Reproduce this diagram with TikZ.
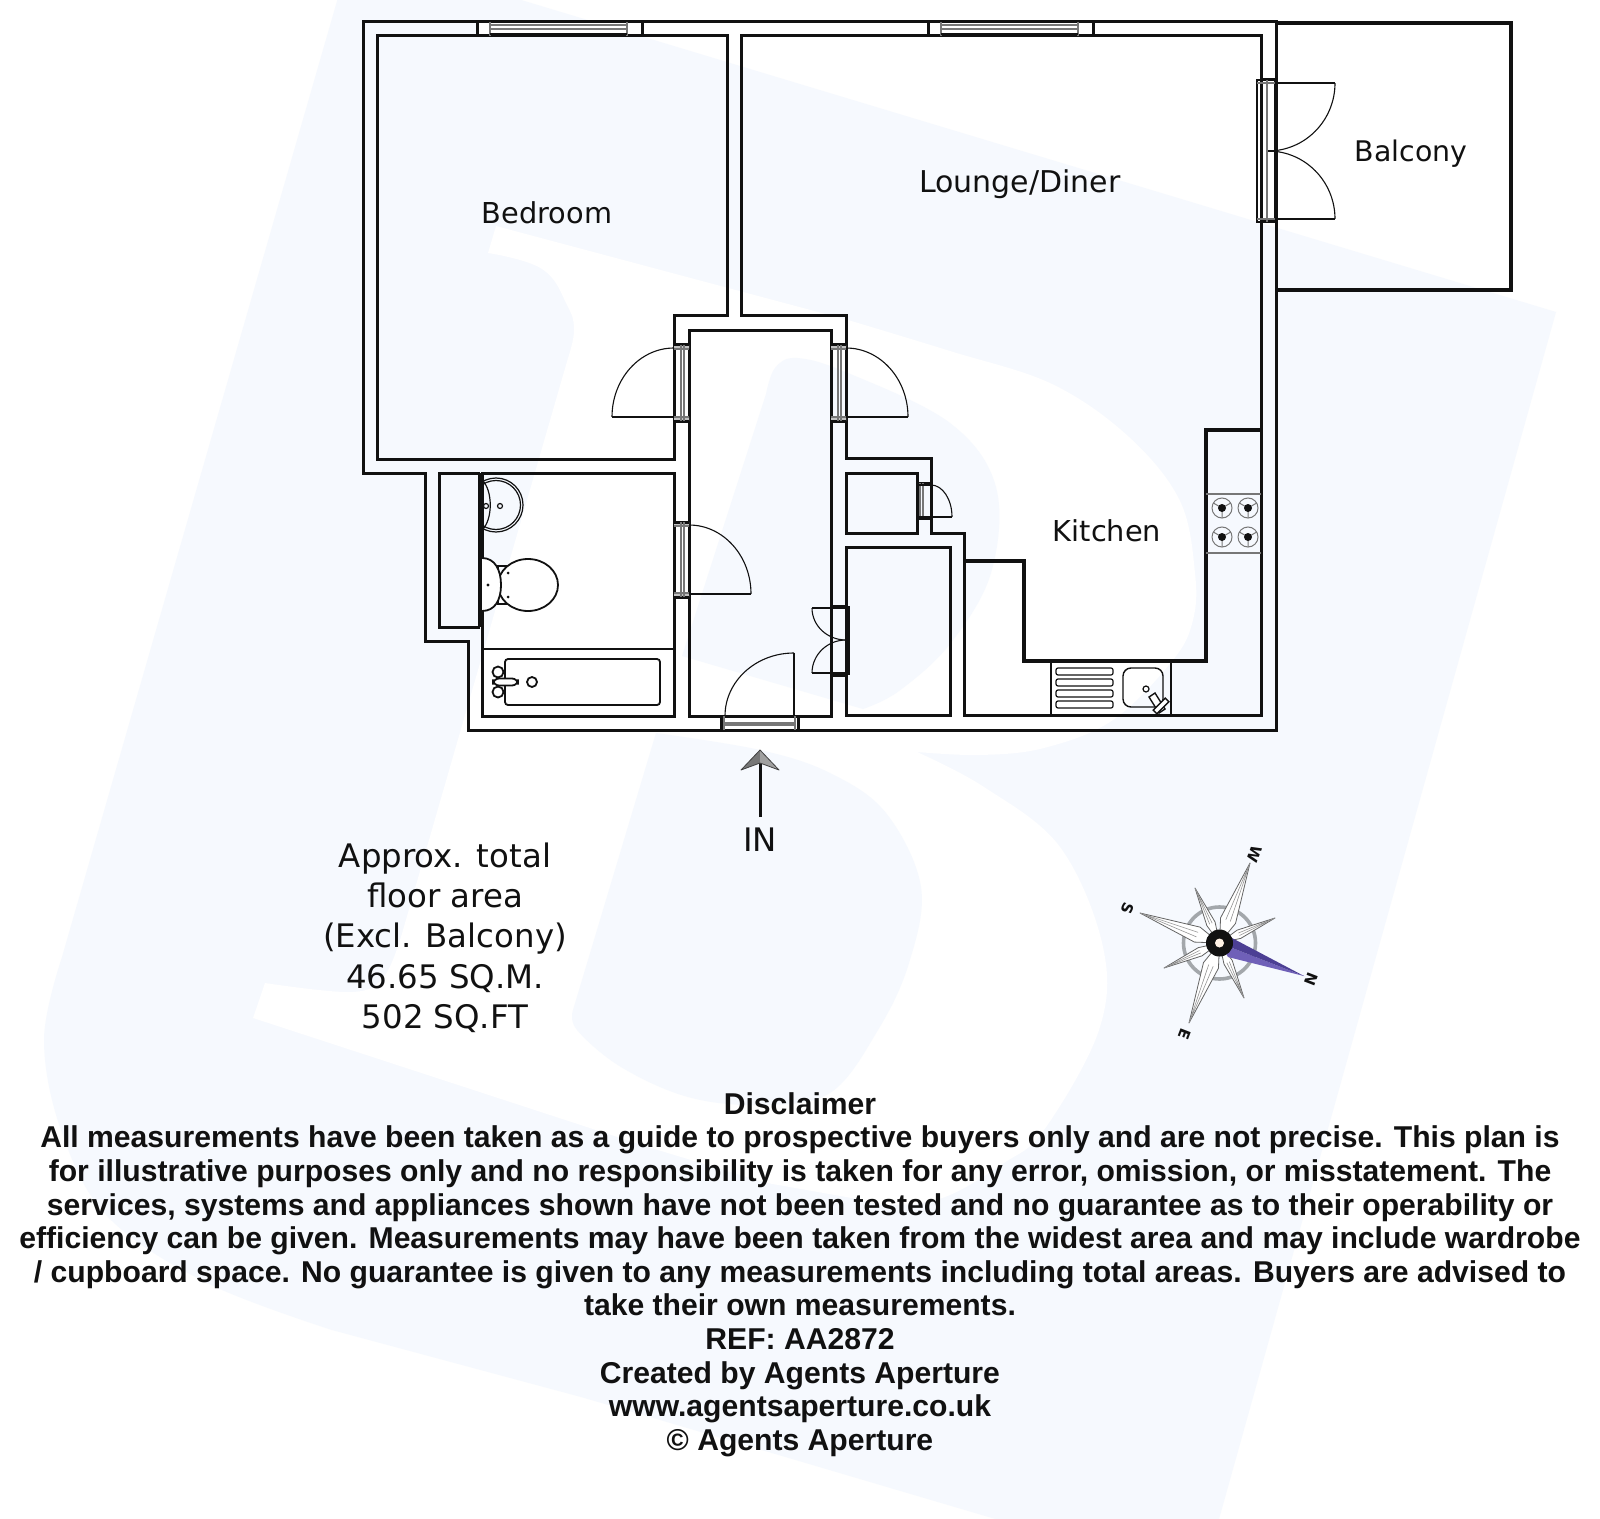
\documentclass[tikz,border=0pt]{standalone}
\usepackage{fontspec}
\setmainfont{DejaVu Sans}
\newfontfamily\discfont{Liberation Sans}[BoldFont={Liberation Sans Bold}]
\usetikzlibrary{calc}
\definecolor{palebg}{HTML}{F6F9FE}
\definecolor{ink}{HTML}{111111}
\definecolor{framegrey}{HTML}{777777}
\definecolor{ringgrey}{HTML}{A3A7AB}
\definecolor{purpA}{HTML}{4C3F94}
\definecolor{purpB}{HTML}{6F60B8}
\tikzset{
  wall/.style={draw=ink,line width=1.5pt,line join=miter},
  heavy/.style={draw=ink,line width=2.4pt,line join=miter},
  thin line/.style={draw=ink,line width=.55pt},
  fixture/.style={draw=ink,line width=.9pt},
  grey line/.style={draw=framegrey,line width=.6pt},
  roomlabel/.style={text=ink,font=\fontsize{14.4}{17}\selectfont,inner sep=0pt},
  arealabel/.style={text=ink,align=center,inner sep=0pt,font=\fontsize{16.2}{20.15}\selectfont},
  disclaimer/.style={text=ink,align=center,inner sep=0pt,font=\discfont\bfseries\fontsize{15.06}{16.8}\selectfont},
  rose/.style={text=ink,inner sep=0pt,rotate=-111,font=\bfseries\fontsize{7.5}{8}\selectfont},
}
% quarter arc from A to B about C
\newcommand{\qarc}[6]{\draw[thin line] (#1,#2) .. controls ({#1+0.5523*(#3-#5)},{#2+0.5523*(#4-#6)}) and ({#3+0.5523*(#1-#5)},{#4+0.5523*(#2-#6)}) .. (#3,#4);}
% window in top wall
\newcommand{\windowat}[1]{%
  \begin{scope}[shift={(#1,0)}]
    \fill[white] (477,22) rectangle (642,36);
    \draw[wall] (477,22) -- (642,22) (477,36) -- (642,36);
    \draw[wall] (477,22) -- (477,36) (642,22) -- (642,36);
    \draw[grey line] (490,22) -- (490,36) (627,22) -- (627,36);
    \draw[heavy,line width=1pt] (490,34) -- (627,34);
    \draw[grey line] (490,25) -- (627,25) (490,29) -- (627,29);
  \end{scope}}
% door frame through a vertical wall
\newcommand{\vframe}[4]{%
  \fill[framegrey!45] (#1,#3) rectangle (#2,#3+4) (#1,#4-4) rectangle (#2,#4);
  \draw[wall] (#1,#3) -- (#2,#3) (#1,#4) -- (#2,#4);
  \draw[grey line] (#1,#3+4) -- (#2,#3+4) (#1,#4-4) -- (#2,#4-4);
  \draw[grey line] ({#1+7},#3) -- ({#1+7},#4) ({#1+10},#3) -- ({#1+10},#4);}
\newcommand{\burner}[2]{%
  \draw[grey line,line width=.5pt] (#1,#2) circle[radius=10];
  \draw[grey line,line width=.5pt] (#1,#2) -- (#1,#2+10) (#1,#2) -- ({#1-8.7},{#2-5}) (#1,#2) -- ({#1+8.7},{#2-5});
  \fill[ink] (#1,#2) circle[radius=4];}
% compass arm: tip x, tip y, half width, base fraction
\newcommand{\carm}[4]{%
  \pgfmathsetmacro\vx{#1-1219.5}\pgfmathsetmacro\vy{#2-943}%
  \pgfmathsetmacro\vl{sqrt(\vx*\vx+\vy*\vy)}%
  \pgfmathsetmacro\px{-\vy/\vl*#3}\pgfmathsetmacro\py{\vx/\vl*#3}%
  \filldraw[fill=white,draw=ink!65,line width=.4pt,line join=round] (#1,#2) -- ({1219.5+\vx*#4+\px},{943+\vy*#4+\py}) -- (1219.5,943) -- ({1219.5+\vx*#4-\px},{943+\vy*#4-\py}) -- cycle;
  \draw[draw=ink!45,line width=.3pt] (#1,#2) -- ({1219.5+\vx*#4+.3*\px},{943+\vy*#4+.3*\py}) (#1,#2) -- ({1219.5+\vx*#4-.3*\px},{943+\vy*#4-.3*\py});}
\begin{document}
\begin{tikzpicture}[x=.5pt,y=-.5pt]
\useasboundingbox (0,0) rectangle (1600,1519);
\fill[white] (0,0) rectangle (1600,1519);
% ---------- watermark ----------
\begin{scope}
\clip (0,0) rectangle (1600,1519);
\fill[palebg] (352,-51) -- (1556,312) -- (1202,1580) -- (650,1417) -- (581,1397)
  -- plot[smooth,tension=.6] coordinates {(332,1330) (207,1283) (108,1217) (62,1133) (44,1040) (62,957)} -- cycle;
\fill[white] (496,226) -- (848,320)
  -- plot[smooth,tension=.6] coordinates {(848,320) (950,351) (1052,384) (1129,437) (1180,501) (1195,573) (1193,620) (1173,660) (1113,720) (1044,748) (980,755) (917,752)}
  -- plot[smooth,tension=.6] coordinates {(917,752) (984,787) (1060,847) (1103,947) (1099,1030) (1044,1130) (1004,1163) (945,1197) (890,1205) (846,1197) (767,1183)}
  -- (648,1147) -- (253,1018) -- (265,983)
  -- plot[smooth,tension=.6] coordinates {(265,983) (353,992) (385,975) (403,930)}
  -- (568,358)
  -- plot[smooth,tension=.7] coordinates {(568,358) (574,330) (567,305) (542,269) (488,253)} -- cycle;
\fill[palebg] (766,394)
  -- plot[smooth,tension=.6] coordinates {(766,394) (775,368) (797,358) (848,373) (950,423) (996,487) (991,573) (950,644) (899,691) (863,709)}
  -- (682,656) -- cycle;
\fill[palebg] (656,733)
  -- plot[smooth,tension=.6] coordinates {(656,733) (760,750) (830,773) (886,813) (921,887) (909,963) (878,1030) (830,1093) (760,1105) (688,1097) (621,1067) (577,1030) (573,1010)} -- cycle;
\end{scope}
% ---------- walls ----------
\draw[wall] (363,22) -- (1276,22) -- (1276,730) -- (468,730) -- (468,641) -- (425,641) -- (425,473) -- (363,473) -- cycle;
\draw[wall] (377,36) -- (727,36) -- (727,316) -- (674,316) -- (674,459) -- (377,459) -- cycle;
\draw[wall] (741,36) -- (1261,36) -- (1261,715) -- (964,715) -- (964,533) -- (931,533) -- (931,458) -- (846,458) -- (846,316) -- (741,316) -- cycle;
\draw[wall] (689,331) rectangle (831,716);
\draw[wall] (482,473) -- (674,473) -- (674,716) -- (482,716) -- cycle;
\draw[wall] (480,627) -- (439,627) -- (439,473) -- (480,473);
\draw[heavy] (480.5,473) -- (480.5,627);
\draw[wall] (846,473) rectangle (917,533);
\draw[wall] (846,547) rectangle (950,715);
\draw[heavy] (964,561) -- (1024,561) -- (1024,661) -- (1206,661) -- (1206,430) -- (1261,430);
\draw[heavy] (1276,23) -- (1511,23) -- (1511,290) -- (1276,290);
% ---------- windows ----------
\windowat{0}
\windowat{451}
% ---------- doors ----------
\vframe{674}{689}{345}{421}
\draw[thin line] (612,417) -- (674,417);
\qarc{612}{417}{674}{348}{674}{417}
\vframe{831}{846}{345}{421}
\draw[thin line] (908,417) -- (846,417);
\qarc{908}{417}{846}{348}{846}{417}
\vframe{674}{689}{522}{597}
\draw[thin line] (751,594) -- (689,594);
\qarc{751}{594}{689}{525}{689}{594}
% entrance
\fill[white] (721,716) rectangle (798,730);
\draw[wall] (721,716) -- (721,730) (798,716) -- (798,730) (721,716) -- (798,716) (721,730) -- (798,730);
\draw[grey line] (724,716) -- (724,730) (795,716) -- (795,730) (724,723) -- (795,723) (724,725) -- (795,725);
\draw[thin line] (794,653) -- (794,716);
\qarc{794}{653}{725}{716}{794}{716}
% cupboard double doors
\draw[wall] (831,606) -- (846,606) (831,675) -- (846,675);
\draw[thin line] (846,607) -- (849,607) -- (849,674) -- (846,674);
\draw[thin line] (812,608) -- (846,608) (812,673) -- (846,673);
\qarc{812}{608}{846}{640}{846}{608}
\qarc{812}{673}{846}{640}{846}{673}
% small cupboard door
\draw[wall] (917,483) -- (931,483) (917,518) -- (931,518);
\draw[grey line] (920,483) -- (920,518) (923,483) -- (923,518);
\draw[thin line] (917,517) -- (952,517) (917,485) -- (931,485);
\qarc{952}{517}{931}{485}{931}{517}
% balcony doors
\draw[thin line] (1257,80) rectangle (1275,222);
\draw[heavy,line width=1.5pt] (1261,80) -- (1275,80) (1261,222) -- (1275,222);
\draw[grey line] (1267,80) -- (1267,222) (1257,83) -- (1275,83) (1257,219) -- (1275,219);
\draw[thin line] (1275,83) -- (1335,83) (1275,219) -- (1335,219) (1268,151) -- (1278,151);
\qarc{1335}{83}{1268}{151}{1268}{83}
\qarc{1335}{219}{1268}{151}{1268}{219}
% ---------- bathroom ----------
\begin{scope}
\clip (482,470) rectangle (540,535);
\draw[fixture,line width=.6pt] (496,505) circle[radius=27];
\draw[fixture,line width=.6pt] (496,505) circle[radius=24.5];
\draw[fixture,line width=.6pt] (482,480) .. controls (493,490) and (493,520) .. (482,530);
\end{scope}
\draw[fixture,line width=.6pt] (486,506) circle[radius=2.5] (500,506) circle[radius=2.5];
\draw[fixture,line width=.7pt] (498,566) rectangle (510,604);
\filldraw[fill=white,fixture] (528,585) ellipse[x radius=30,y radius=26];
\filldraw[fill=white,fixture] (482,558) .. controls (495,558) and (501,570) .. (501,585) .. controls (501,600) and (495,611) .. (482,611);
\fill[ink] (488,585) circle[radius=1.7] (508,573) circle[radius=1.5] (508,597) circle[radius=1.5];
\draw[wall,line width=1pt] (482,649) -- (674,649);
\draw[fixture,rounded corners=1.5pt] (505,659) rectangle (660,705);
\filldraw[fill=white,fixture] (498,672) circle[radius=5.5] (498,692) circle[radius=5.5];
\filldraw[fill=white,fixture,rounded corners=3pt] (493,678.5) rectangle (518,685.5);
\draw[fixture] (532,682) circle[radius=5];
% ---------- kitchen ----------
\draw[fixture,line width=.55pt] (1051,661) -- (1051,715) (1171,661) -- (1171,715);
\foreach \yy in {668,679,690,701}
  \draw[fixture,line width=.6pt,rounded corners=1pt] (1056,\yy) rectangle (1113,\yy+7);
\draw[fixture,line width=.7pt,rounded corners=4pt] (1123,668) rectangle (1163,707);
\draw[fixture,line width=.6pt] (1146,689) circle[radius=3];
\filldraw[fill=white,fixture,line width=.7pt] (1149,697) -- (1155,693) -- (1165,709) -- (1159,713) -- cycle;
\filldraw[fill=white,fixture,line width=.7pt] (1153.2,710.2) -- (1165.2,698.2) -- (1168.8,701.8) -- (1156.8,713.8) -- cycle;
\draw[grey line] (1206,494) -- (1261,494) (1206,553) -- (1261,553);
\burner{1222}{508}\burner{1248}{508}\burner{1222}{537}\burner{1248}{537}
% ---------- entrance arrow ----------
\coordinate (arrowtail) at (760,817);
\coordinate (arrowneck) at (760,763);
\draw[ink,line width=1.5pt] (arrowtail) -- (arrowneck);
\fill[framegrey] (760,750) -- (741,770) -- (760,763) -- cycle;
\fill[framegrey!70] (760,750) -- (779,770) -- (760,763) -- cycle;
\draw[ink!80,line width=.4pt,line join=round] (760,750) -- (741,770) -- (760,763) -- (779,770) -- cycle;
% ---------- compass ----------
\draw[ringgrey,line width=1.8pt] (1219.5,943) circle[radius=36];
\carm{1195}{888}{4.5}{.35}
\carm{1244}{998}{4.5}{.35}
\carm{1275}{918}{4.5}{.35}
\carm{1164}{968}{4.5}{.35}
\carm{1250}{863}{8}{.28}
\carm{1189}{1023}{8}{.28}
\carm{1140}{913}{8}{.28}
\fill[purpB] (1304,976) -- (1228,957) -- (1219.5,943) -- cycle;
\fill[purpA] (1304,976) -- (1232,938) -- (1219.5,943) -- cycle;
\fill[ink] (1219.5,943) circle[radius=13.5];
\fill[white!90!orange] (1219.5,943) circle[radius=4.5];
\node[rose] (roseW) at (1255,854) {W};
\node[rose] (roseN) at (1311,979) {N};
\node[rose] (roseS) at (1128,908) {S};
\node[rose] (roseE) at (1185,1034) {E};
% ---------- labels ----------
\node[roomlabel] (bedroom) at (547,213) {Bedroom};
\node[roomlabel,font=\fontsize{15}{17}\selectfont] (lounge) at (1020,184) {Lounge/Diner};
\node[roomlabel] (kitchen) at (1107,531) {Kitchen};
\node[roomlabel,font=\fontsize{14.2}{17}\selectfont] (balcony) at (1411,154) {Balcony};
\node[arealabel] (inlabel) at (760,840) {IN};
\node[arealabel] (area) at (445,937.5) {Approx. total\\floor area\\(Excl. Balcony)\\46.65 SQ.M.\\502 SQ.FT};
\node[disclaimer] (disc) at (800,1274.5) {Disclaimer\\
All measurements have been taken as a guide to prospective buyers only and are not precise. This plan is\\
for illustrative purposes only and no responsibility is taken for any error, omission, or misstatement. The\\
services, systems and appliances shown have not been tested and no guarantee as to their operability or\\
efficiency can be given. Measurements may have been taken from the widest area and may include wardrobe\\
/ cupboard space. No guarantee is given to any measurements including total areas. Buyers are advised to\\
take their own measurements.\\
REF: AA2872\\
Created by Agents Aperture\\
www.agentsaperture.co.uk\\
© Agents Aperture};
\end{tikzpicture}
\end{document}
